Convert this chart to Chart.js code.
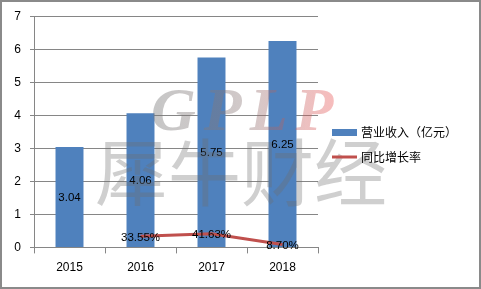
<!DOCTYPE html>
<html><head><meta charset="utf-8">
<script src="https://cdn.jsdelivr.net/npm/chart.js@4/dist/chart.umd.min.js"></script>
<style>html,body{margin:0;padding:0;background:#fff}#wrap{width:481px;height:289px;position:relative}</style>
</head><body><div id="wrap"><canvas id="c" width="481" height="289"></canvas></div>
<script>
const categories = ['2015', '2016', '2017', '2018'];
const revenue = [3.04, 4.06, 5.75, 6.25];
const growth = [null, 0.3355, 0.4163, 0.0870];
const growthLabels = [null, '33.55%', '41.63%', '8.70%'];
const revenueName = '营业收入（亿元）';
const growthName = '同比增长率';
const yTicks = [0, 1, 2, 3, 4, 5, 6, 7];
const watermarkLatin = 'GPLP';
const watermarkCJK = '犀牛财经';

const labelPlugin = {
  id: 'labels',
  afterDatasetsDraw(chart) {
    const ctx = chart.ctx;
    ctx.save();
    ctx.fillStyle = '#000';
    ctx.font = '11.5px "Liberation Sans", Arial, sans-serif';
    ctx.textAlign = 'center';
    ctx.textBaseline = 'middle';
    const barMeta = chart.getDatasetMeta(0);
    barMeta.data.forEach((el, i) => {
      const y = (el.y + el.base) / 2;
      ctx.fillText(revenue[i].toFixed(2), el.x, y + 1);
    });
    const lineMeta = chart.getDatasetMeta(1);
    lineMeta.data.forEach((el, i) => {
      if (growth[i] == null) return;
      ctx.fillText(growthLabels[i], el.x, el.y + 1.5);
    });
    ctx.restore();
  },
  afterDraw(chart) {
    const ctx = chart.ctx;
    ctx.save();
    // watermark
    ctx.textBaseline = 'alphabetic';
    ctx.textAlign = 'left';
    const g = ctx.createLinearGradient(153, 0, 337, 0);
    g.addColorStop(0, 'rgba(120,120,120,0.42)');
    g.addColorStop(0.5, 'rgba(140,120,120,0.4)');
    g.addColorStop(1, 'rgba(235,70,70,0.36)');
    ctx.fillStyle = g;
    ctx.font = 'italic bold 62px "Liberation Serif", "DejaVu Serif", serif';
    if ('letterSpacing' in ctx) ctx.letterSpacing = '8px';
    ctx.fillText(watermarkLatin, 151, 130);
    if ('letterSpacing' in ctx) ctx.letterSpacing = '0px';
    ctx.fillStyle = 'rgba(110,110,110,0.33)';
    ctx.font = '73px "Noto Sans CJK SC", sans-serif';
    ctx.textBaseline = 'middle';
    ctx.fillText(watermarkCJK, 95, 172);
    // legend
    ctx.fillStyle = '#4F81BD';
    ctx.fillRect(332, 129, 25, 7);
    ctx.strokeStyle = '#C0504D';
    ctx.lineWidth = 3;
    ctx.beginPath(); ctx.moveTo(332, 157); ctx.lineTo(357, 157); ctx.stroke();
    ctx.fillStyle = '#000';
    ctx.font = '12px "Noto Sans CJK SC", sans-serif';
    ctx.textBaseline = 'middle';
    ctx.fillText(chart.data.datasets[0].label, 361, 132.5);
    ctx.fillText(chart.data.datasets[1].label, 361, 157);
    // outer border
    ctx.strokeStyle = '#8a8a8a';
    ctx.lineWidth = 2;
    ctx.strokeRect(1, 1, 479, 287);
    ctx.restore();
  }
};

new Chart(document.getElementById('c'), {
  type: 'bar',
  data: {
    labels: categories,
    datasets: [
      { type: 'bar', label: revenueName, data: revenue, backgroundColor: '#4F81BD',
        categoryPercentage: 1, barPercentage: 0.394, order: 2 },
      { type: 'line', label: growthName, data: growth, borderColor: '#C0504D',
        backgroundColor: '#C0504D', borderWidth: 3, pointRadius: 0, tension: 0,
        spanGaps: false, order: 1 }
    ]
  },
  options: {
    responsive: false,
    animation: false,
    layout: { padding: { left: 0, top: 8, right: 163, bottom: 0 } },
    plugins: { legend: { display: false }, tooltip: { enabled: false } },
    scales: {
      x: {
        offset: true,
        grid: { offset: true, drawOnChartArea: false, drawTicks: true, tickLength: 6, color: '#868686' },
        border: { display: true, color: '#868686', width: 1 },
        ticks: { color: '#000', font: { family: '"Liberation Sans", Arial, sans-serif', size: 12 }, padding: 7 },
        afterFit(s) { s.height = 41.6; }
      },
      y: {
        min: 0, max: 7,
        afterBuildTicks(s) { s.ticks = yTicks.map(v => ({ value: v })); },
        grid: { color: '#868686', tickLength: 4, drawTicks: true },
        border: { display: true, color: '#868686', width: 1 },
        ticks: { color: '#000', font: { family: '"Liberation Sans", Arial, sans-serif', size: 12 }, padding: 9 },
        afterFit(s) { s.width = 34; }
      }
    }
  },
  plugins: [labelPlugin]
});
</script></body></html>
